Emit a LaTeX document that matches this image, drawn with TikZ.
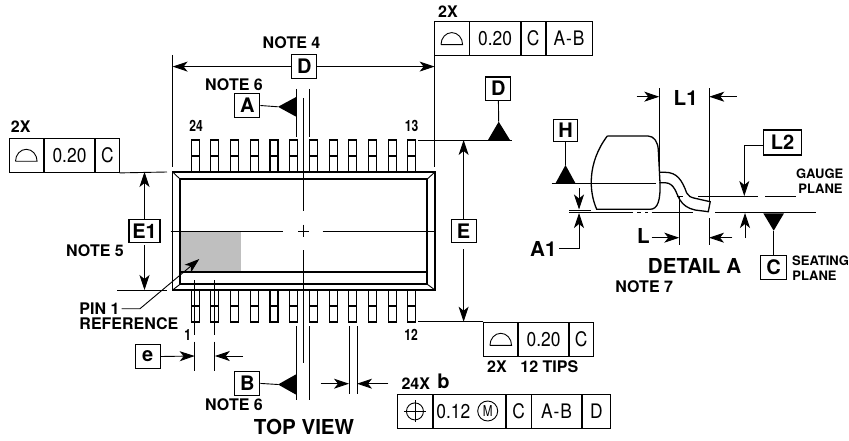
\documentclass[tikz,border=0pt]{standalone}
\usepackage{fontspec}
\setmainfont{TeX Gyre Heros}
\newfontfamily\framefont{TeX Gyre Heros}[FakeStretch=0.87]
\newfontfamily\pinfont{TeX Gyre Heros}[FakeStretch=0.78]
\usetikzlibrary{arrows.meta}
\definecolor{pinshade}{HTML}{BFBFBF}

\begin{document}
\begin{tikzpicture}[x=1pt,y=-1pt,>={Stealth[length=15pt,width=10pt,inset=4pt]},line width=0.9pt,
    cell/.style={draw,inner sep=0pt,minimum height=34.3pt,font=\framefont\fontsize{20}{20}\selectfont},
    datum/.style={draw,line width=1.1pt,inner sep=0pt,minimum width=25pt,minimum height=23.4pt,font=\bfseries\fontsize{20}{20}\selectfont},
    pin node/.style={draw,line width=1.1pt,inner sep=0pt,minimum width=8pt,minimum height=32pt,node distance=19.7pt,path picture={\draw[line width=1.1pt] (path picture bounding box.west) -- (path picture bounding box.east);}},
    pin label/.style={inner sep=0pt,font=\pinfont\bfseries\fontsize{15.5}{15.5}\selectfont},
    note/.style={inner sep=0pt,font=\bfseries\fontsize{16}{16}\selectfont},
    small note/.style={inner sep=0pt,font=\bfseries\fontsize{13}{13}\selectfont},
    big note/.style={inner sep=0pt,font=\bfseries\fontsize{20.6}{20.6}\selectfont},
    body line/.style={line width=1.7pt},
    tip/.style={fill=black,draw=none}]
    \useasboundingbox (0,0) rectangle (849,441);

    % package body
    \fill[pinshade] (180,231) rectangle (241,272.3);
    \draw[body line] (172.6,172) rectangle (435,290);
    \draw[body line] (180,179) rectangle (427.3,284.3);
    \draw[body line] (180,272.3) -- (427.3,272.3);
    \draw (172.6,172) -- (180,179);
    \draw (435,172) -- (427.3,179);
    \draw (172.6,290) -- (180,284.3);
    \draw (435,290) -- (427.3,284.3);

    % centre lines
    \draw (303.3,98) -- (303.3,210.7);
    \draw (303.3,224.7) -- (303.3,236.7);
    \draw (303.3,250) -- (303.3,362.7);
    \draw (170.7,231) -- (283,231);
    \draw (298,231) -- (309,231);
    \draw (322.7,231) -- (435,231);

    % pins
    \node[pin node] (t1) at (195.2,156){};
    \node[pin node] (t2) [right of = t1]{};
    \node[pin node] (t3) [right of = t2]{};
    \node[pin node] (t4) [right of = t3]{};
    \node[pin node] (t5) [right of = t4]{};
    \node[pin node] (t6) [right of = t5]{};
    \node[pin node] (t7) [right of = t6]{};
    \node[pin node] (t8) [right of = t7]{};
    \node[pin node] (t9) [right of = t8]{};
    \node[pin node] (t10) [right of = t9]{};
    \node[pin node] (t11) [right of = t10]{};
    \node[pin node] (t12) [right of = t11]{};
    \node[pin node] (b1) at (195.2,306){};
    \node[pin node] (b2) [right of = b1]{};
    \node[pin node] (b3) [right of = b2]{};
    \node[pin node] (b4) [right of = b3]{};
    \node[pin node] (b5) [right of = b4]{};
    \node[pin node] (b6) [right of = b5]{};
    \node[pin node] (b7) [right of = b6]{};
    \node[pin node] (b8) [right of = b7]{};
    \node[pin node] (b9) [right of = b8]{};
    \node[pin node] (b10) [right of = b9]{};
    \node[pin node] (b11) [right of = b10]{};
    \node[pin node] (b12) [right of = b11]{};
    \node[pin label] (n24) at (196,126){24};
    \node[pin label] (n13) at (411.7,126){13};
    \node[pin label] (n1) at (187.7,335){1};
    \node[pin label] (n12) at (411,335){12};

    % frame left
    \node[note] (left2x) at (20.7,127){2X};
    \node[cell,minimum width=34.3pt,anchor=north west] (f1) at (8.7,137.7){};
    \node[cell,minimum width=50.3pt,anchor=west] (f2) at (f1.east){0.20};
    \node[cell,minimum width=23.7pt,anchor=west] (f3) at (f2.east){C};
    \draw (f1.center) ++(-10.8,6) -- ++(21.6,0) arc[x radius=10.8,y radius=12,start angle=0,end angle=-180];
    \coordinate (f3end) at (167,172);
    \draw (f3.south east) -- (f3end);

    % frame top right
    \node[note] (top2x) at (448,12){2X};
    \node[cell,minimum width=34.3pt,anchor=north west] (g1) at (434.2,21){};
    \node[cell,minimum width=50.4pt,anchor=west] (g2) at (g1.east){0.20};
    \node[cell,minimum width=24pt,anchor=west] (g3) at (g2.east){C};
    \node[cell,minimum width=46pt,anchor=west] (g4) at (g3.east){A\kern1pt-\kern1pt B};
    \draw (g1.center) ++(-10.8,6) -- ++(21.6,0) arc[x radius=10.8,y radius=12,start angle=0,end angle=-180];

    % frame tips
    \node[cell,minimum width=34pt,anchor=north west] (h1) at (483.3,321.7){};
    \node[cell,minimum width=50pt,anchor=west] (h2) at (h1.east){0.20};
    \node[cell,minimum width=23.4pt,anchor=west] (h3) at (h2.east){C};
    \draw (h1.center) ++(-10.8,6) -- ++(21.6,0) arc[x radius=10.8,y radius=12,start angle=0,end angle=-180];
    \node[note] (tips2x) at (497,366.7){2X};
    \node[note] (tips12) at (549.3,366.7){12 TIPS};
    \coordinate (tipsline) at (418.3,321.7);
    \draw (h1.north west) -- (tipsline);

    % frame bottom
    \node[note] (n24x) at (415.8,384){24X};
    \node[inner sep=0pt,font=\bfseries\fontsize{20}{20}\selectfont] (nb) at (443.5,381.5){b};
    \node[cell,minimum width=34.4pt,anchor=north west] (k1) at (397.3,393.8){};
    \node[cell,minimum width=72.6pt,anchor=west,align=left,text width=66pt] (k2) at (k1.east){0.12};
    \node[cell,minimum width=24.4pt,anchor=west] (k3) at (k2.east){C};
    \node[cell,minimum width=49.3pt,anchor=west] (k4) at (k3.east){A\kern1pt-\kern1pt B};
    \node[cell,minimum width=28.7pt,anchor=west] (k5) at (k4.east){D};
    \node[circle,draw,inner sep=0pt,minimum size=20pt,font=\pinfont\fontsize{15}{15}\selectfont] (kM) at (487.7,411){M};
    \draw (k1.center) circle[radius=8.5];
    \draw (k1.center) ++(-11,0) -- ++(22,0);
    \draw (k1.center) ++(0,-11) -- ++(0,22);

    % width D
    \node[note] (note4) at (291.5,43){NOTE 4};
    \node[datum] (D) at (304.3,66.6){D};
    \coordinate (dleft) at (172.6,66.6);
    \coordinate (dright) at (434.6,66.6);
    \draw (172.6,55) -- (172.6,167);
    \draw (434.6,55) -- (434.6,167);
    \draw[->] (D.west) -- (dleft);
    \draw[->] (D.east) -- (dright);

    % datums A and B
    \node[note] (note6a) at (234,84.7){NOTE 6};
    \node[datum] (A) at (247.3,105.5){A};
    \draw (296.7,89) -- (296.7,136.7);
    \draw (309.3,89) -- (309.3,136.7);
    \coordinate (atip) at (278,106.8);
    \draw (A.east) -- (atip);
    \fill[tip] (atip) -- (296.7,96.7) -- (296.7,117) -- cycle;
    \node[datum] (B) at (247.3,383.4){B};
    \node[note] (note6b) at (234,405){NOTE 6};
    \draw (296.7,326) -- (296.7,400);
    \draw (309.3,326) -- (309.3,400);
    \coordinate (btip) at (278,384.5);
    \draw (B.east) -- (btip);
    \fill[tip] (btip) -- (296.7,374) -- (296.7,395) -- cycle;
    \node[big note] (topview) at (304,427){TOP VIEW};

    % width E1
    \node[datum,minimum width=31pt] (E1) at (144.5,231){E1};
    \node[note] (note5) at (95,251){NOTE 5};
    \coordinate (e1top) at (144.5,172);
    \coordinate (e1bot) at (144.5,290);
    \draw[->] (E1.north) -- (e1top);
    \draw[->] ([yshift=-2pt]E1.south) -- (e1bot);
    \draw (117,290) -- (167,290);

    % pin 1 reference
    \node[note,anchor=west] (pin1) at (79,308.7){PIN 1};
    \node[note,anchor=west] (reference) at (79,323.5){REFERENCE};
    \coordinate (pin1bend) at (140,308.7);
    \coordinate (pin1tip) at (199.3,259);
    \coordinate (pin1start) at (121.7,308.7);
    \draw[->] (pin1start) -- (pin1bend) -- (pin1tip);

    % pitch e
    \node[datum] (e) at (147.8,356.5){e};
    \draw (194.7,280) -- (194.7,335);
    \draw (214.3,280) -- (214.3,335);
    \draw (194.7,341.7) -- (194.7,370.7);
    \draw (214.3,341.7) -- (214.3,370.7);
    \coordinate (etip) at (194.7,356);
    \coordinate (etipr) at (214.8,356);
    \coordinate (etail) at (243,356);
    \draw[->] (e.east) -- (etip);
    \draw[->] (etail) -- (etipr);

    % lead width b
    \draw (349,326) -- (349,394.3);
    \draw (357,326) -- (357,394.3);
    \coordinate (bl) at (320.7,383.7);
    \coordinate (blt) at (349,383.7);
    \coordinate (br) at (388.3,383.7);
    \coordinate (brt) at (357,383.7);
    \draw[->] (bl) -- (blt);
    \draw[->] (br) -- (brt);

    % width E
    \node[datum] (E) at (463.6,231){E};
    \coordinate (etop) at (463.6,140);
    \coordinate (ebot) at (463.6,321.7);
    \draw[->] (E.north) -- (etop);
    \draw[->] ([yshift=-6pt]E.south) -- (ebot);
    \draw (418.3,140) -- (511.7,140);
    \node[datum] (Dd) at (498.4,88.7){D};
    \coordinate (ddtip) at (498.7,121.7);
    \draw (Dd.south) -- (ddtip);
    \fill[tip] (ddtip) -- (510,140) -- (488,140) -- cycle;

    % detail A: package and lead
    \draw[line width=1.3pt] (607.3,136) -- (648,136) .. controls (654,136) and (658,142) .. (658.3,150) -- (660,183) .. controls (660.5,200) and (658,209.3) .. (650,209.3) -- (596.7,209.3) .. controls (589,192) and (587,163) .. (607.3,136);
    \draw[line width=1.3pt] (659.3,172.3) -- (665,172.3) .. controls (677,172.3) and (682,180) .. (686.7,193) .. controls (688,196) and (691,197.5) .. (695,198.3) -- (710.2,201.7) -- (708.3,211.7) -- (695,210) .. controls (688,208.5) and (683,205) .. (680,200) .. controls (676,194) and (675,183) .. (665,182.7) -- (659.3,182.7);

    % detail A: planes
    \draw (551.7,183.3) -- (656,183.3);
    \draw (569.3,210) -- (590.7,210);
    \draw (569.3,212.3) -- (633,212.3);
    \draw (637,212.3) -- (641,212.3);
    \draw (645,212.3) -- (648,212.3);
    \draw (651.7,212.3) -- (693.3,212.3);
    \draw (715,212.3) -- (815.7,212.3);
    \draw (676.7,196) -- (682.7,196);
    \draw (698,196) -- (757.7,196);
    \draw (765,196) -- (795.7,196);

    % datum H
    \node[datum,minimum width=23.6pt,minimum height=21.6pt] (H) at (565.5,130.5){H};
    \coordinate (htip) at (565.5,165);
    \draw (H.south) -- (htip);
    \fill[tip] (htip) -- (575.5,183.3) -- (555.5,183.3) -- cycle;

    % A1
    \node[big note] (A1) at (543.3,249){A1};
    \coordinate (a1bend) at (579,248.3);
    \coordinate (a1start) at (559.3,248.3);
    \coordinate (a1up) at (579,213);
    \coordinate (a1top) at (579,188);
    \coordinate (a1down) at (579,209.5);
    \draw[->] (a1start) -- (a1bend) -- (a1up);
    \draw[->] (a1top) -- (a1down);

    % L1
    \node[big note] (L1) at (685.7,98.3){L1};
    \draw (659.3,88.3) -- (659.3,171);
    \draw (709.3,88.3) -- (709.3,201.7);
    \coordinate (l1a) at (636.7,96.7);
    \coordinate (l1b) at (659.3,96.7);
    \coordinate (l1c) at (736.7,96.7);
    \coordinate (l1d) at (709.3,96.7);
    \draw[->] (l1a) -- (l1b);
    \draw[->] (l1c) -- (l1d);

    % L2
    \node[datum,minimum width=38.4pt,minimum height=25pt] (L2) at (782.5,142.5){L2};
    \coordinate (l2bend) at (744.3,145);
    \coordinate (l2tip) at (744.3,196);
    \draw[->] (L2.west |- l2bend) -- (l2bend) -- (l2tip);
    \coordinate (l2up) at (745,238);
    \coordinate (l2uptip) at (745,213);
    \draw[->] (l2up) -- (l2uptip);

    % L
    \node[big note] (L) at (643.3,235.7){L};
    \draw (679.3,196) -- (679.3,245);
    \draw (709,218.3) -- (709,245);
    \coordinate (la) at (651.7,237.7);
    \coordinate (lb) at (679.3,237.7);
    \coordinate (lc) at (732.3,237.7);
    \coordinate (ld) at (709,237.7);
    \draw[->] (la) -- (lb);
    \draw[->] (lc) -- (ld);

    % seating plane
    \node[datum,minimum width=26pt,minimum height=24.3pt] (C) at (773.7,267.2){C};
    \coordinate (ctip) at (773.7,230.7);
    \draw (C.north) -- (ctip);
    \fill[tip] (ctip) -- (763.3,213.3) -- (784,213.3) -- cycle;

    % plane and detail labels
    \node[small note,anchor=west] (gauge) at (795.7,173.3){GAUGE};
    \node[small note,anchor=west] (gplane) at (798,189){PLANE};
    \node[small note,anchor=west] (seating) at (791.7,260.7){SEATING};
    \node[small note,anchor=west] (splane) at (792,275.7){PLANE};
    \node[big note] (detail) at (694.5,265.7){DETAIL A};
    \node[note] (note7) at (644.2,286.7){NOTE 7};
\end{tikzpicture}
\end{document}
